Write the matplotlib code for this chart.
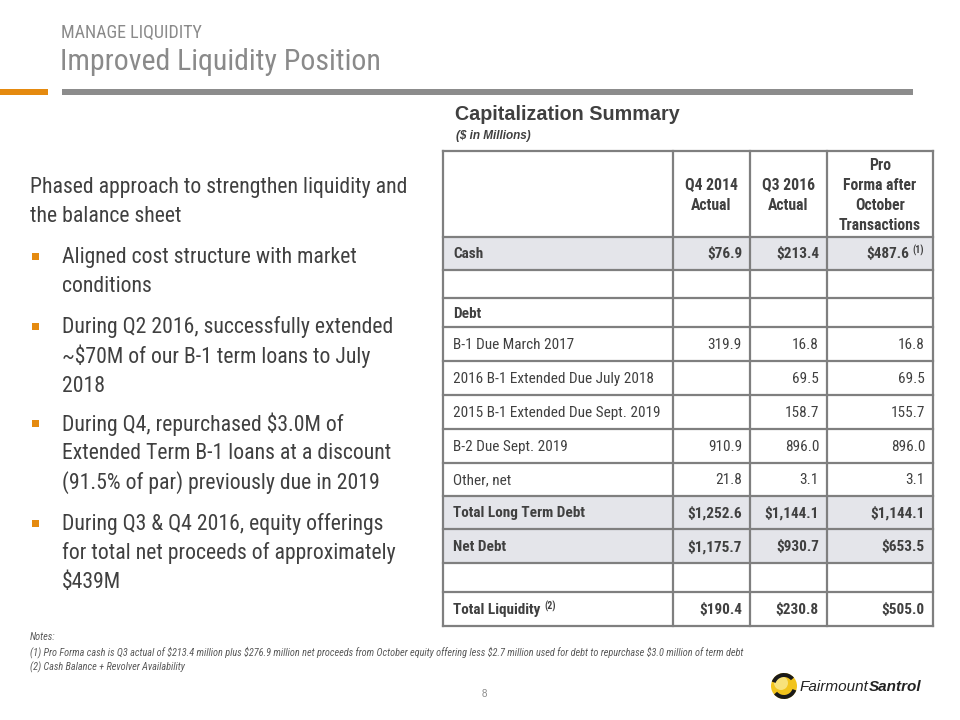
import matplotlib
matplotlib.use("Agg")
import matplotlib.pyplot as plt
from matplotlib.patches import Rectangle, Circle, Wedge

# ---------------- data ----------------
section_label = "MANAGE LIQUIDITY"
title = "Improved Liquidity Position"
table_title = "Capitalization Summary"
table_subtitle = "($ in Millions)"

column_headers = ["Q4 2014\nActual", "Q3 2016\nActual", "Pro\nForma after\nOctober\nTransactions"]
row_labels = ["Cash", "", "Debt", "B-1 Due March 2017", "2016 B-1 Extended Due July 2018",
              "2015 B-1 Extended Due Sept. 2019", "B-2 Due Sept. 2019", "Other, net",
              "Total Long Term Debt", "Net Debt", "", "Total Liquidity"]
row_label_notes = ["", "", "", "", "", "", "", "", "", "", "", "(2)"]
q4_2014_actual = ["$76.9", "", "", "319.9", "", "", "910.9", "21.8", "$1,252.6", "$1,175.7", "", "$190.4"]
q3_2016_actual = ["$213.4", "", "", "16.8", "69.5", "158.7", "896.0", "3.1", "$1,144.1", "$930.7", "", "$230.8"]
pro_forma = ["$487.6", "", "", "16.8", "69.5", "155.7", "896.0", "3.1", "$1,144.1", "$653.5", "", "$505.0"]
pro_forma_notes = ["(1)", "", "", "", "", "", "", "", "", "", "", ""]
bold_rows = ["Cash", "Debt", "Total Long Term Debt", "Net Debt", "Total Liquidity"]
shaded_rows = ["Cash", "Total Long Term Debt", "Net Debt"]

intro = "Phased approach to strengthen liquidity and\nthe balance sheet"
bullets = [
    "Aligned cost structure with market\nconditions",
    "During Q2 2016, successfully extended\n~$70M of our B-1 term loans to July\n2018",
    "During Q4, repurchased $3.0M of\nExtended Term B-1 loans at a discount\n(91.5% of par) previously due in 2019",
    "During Q3 & Q4 2016, equity offerings\nfor total net proceeds of approximately\n$439M",
]
notes = [
    "Notes:",
    "(1) Pro Forma cash is Q3 actual of $213.4 million plus $276.9 million net proceeds from October equity offering less $2.7 million used for debt to repurchase $3.0 million of term debt",
    "(2) Cash Balance + Revolver Availability",
]
page_number = "8"

# ---------------- style ----------------
COND = ["Roboto Condensed", "DejaVu Sans"]
SANS = ["Liberation Sans", "DejaVu Sans"]
GREY_TITLE = "#8a8a8a"
DARK = "#404040"
ORANGE = "#e58a0f"
BORDER = "#7f7f7f"
SHADE = "#e4e5ea"

fig = plt.figure(figsize=(9.6, 7.2), dpi=100)
ax = fig.add_axes([0, 0, 1, 1])
ax.set_xlim(0, 960)
ax.set_ylim(720, 0)
ax.axis("off")


def txt(x, y, s, **kw):
    kw.setdefault("parse_math", False)
    return ax.text(x, y, s, **kw)


# header
txt(61, 33, section_label, family=COND, fontsize=13, color=GREY_TITLE, va="center", ha="left")
txt(60, 62, title, family=COND, fontsize=21.5, color=GREY_TITLE, va="center", ha="left")
ax.add_patch(Rectangle((0, 89), 48, 6, color=ORANGE, lw=0))
ax.add_patch(Rectangle((62, 89), 851, 6, color="#8c8c8c", lw=0))

# table titles
txt(455, 114, table_title, family=SANS, fontsize=14.2, fontweight="bold", color=DARK, va="center")
txt(456, 136, table_subtitle, family=SANS, fontsize=8.5, fontweight="bold", style="italic", color=DARK, va="center")

# table geometry
col_x = [443, 673, 750, 827, 933]
row_y = [151, 237, 270, 298, 327, 361, 395, 429, 463, 496, 529, 563, 592, 626]

for i, lab in enumerate(row_labels):
    if lab in shaded_rows:
        ax.add_patch(Rectangle((col_x[0], row_y[i + 1]), col_x[-1] - col_x[0], row_y[i + 2] - row_y[i + 1],
                               facecolor=SHADE, edgecolor="none"))
for y in row_y:
    ax.plot([col_x[0], col_x[-1]], [y, y], color=BORDER, lw=1.6, solid_capstyle="projecting")
for x in col_x:
    ax.plot([x, x], [row_y[0], row_y[-1]], color=BORDER, lw=1.6, solid_capstyle="projecting")

FS = 11
for j, h in enumerate(column_headers):
    cx = (col_x[j + 1] + col_x[j + 2]) / 2
    lines = h.split("\n")
    n = len(lines)
    yc = (row_y[0] + row_y[1]) / 2 + 1
    for k, line in enumerate(lines):
        txt(cx, yc + (k - (n - 1) / 2) * 20, line, family=COND, fontsize=FS + 0.3, fontweight="bold",
            color=DARK, ha="center", va="center")

cols = [q4_2014_actual, q3_2016_actual, pro_forma]
fig.canvas.draw()
for i, lab in enumerate(row_labels):
    yc = (row_y[i + 1] + row_y[i + 2]) / 2 + 1
    w = "bold" if lab in bold_rows else "normal"
    if lab:
        t = txt(col_x[0] + 10, yc, lab, family=COND, fontsize=FS, fontweight=w, color=DARK,
                ha="left", va="center")
        if row_label_notes[i]:
            fig.canvas.draw()
            bb = t.get_window_extent()
            x_end = bb.x1 / fig.dpi * 100
            txt(x_end + 4, yc - 4, row_label_notes[i], family=COND, fontsize=7, fontweight="bold",
                color=DARK, ha="left", va="center")
    for j, col in enumerate(cols):
        val = col[i]
        if not val:
            continue
        xr = col_x[j + 2] - 8
        if j == 2 and pro_forma_notes[i]:
            txt(xr - 1, yc - 4, pro_forma_notes[i], family=COND, fontsize=7, fontweight="bold",
                color=DARK, ha="right", va="center")
            xr -= 16
        txt(xr, yc, val, family=COND, fontsize=FS, fontweight=w, color=DARK, ha="right", va="center")

# left text
PITCH = 29.5
FS_L = 15.7
for k, line in enumerate(intro.split("\n")):
    txt(30, 187 + k * PITCH, line, family=COND, fontsize=FS_L, color=DARK, ha="left", va="center")
bullet_top = [257, 327, 424, 524]
for b, y0 in zip(bullets, bullet_top):
    for k, line in enumerate(b.split("\n")):
        txt(62, y0 + k * PITCH, line, family=COND, fontsize=FS_L, color=DARK, ha="left", va="center")
    ax.add_patch(Rectangle((32, y0 - 4), 7, 7, color=ORANGE, lw=0))

# notes
for k, n in enumerate(notes):
    txt(30, 637 + k * 15, n, family=COND, fontsize=7.35, style="italic", color="#595959",
        ha="left", va="center")

txt(484, 694, page_number, family=SANS, fontsize=7, color="#8a8a8a", ha="center", va="center")

# logo
cx, cy = 784, 686
ax.add_patch(Circle((cx, cy), 13, facecolor="#f2c41c", edgecolor="none"))
ax.add_patch(Circle((cx - 3, cy - 3), 7, facecolor="#f8e27a", edgecolor="none"))
ax.add_patch(Wedge((cx, cy), 13, 200, 320, width=4, facecolor="#1a1a1a", edgecolor="none"))
ax.add_patch(Wedge((cx, cy), 13, 20, 140, width=4, facecolor="#1a1a1a", edgecolor="none"))
t1 = txt(800, 687, "Fairmount", family=SANS, fontsize=11, style="italic", color="#222222",
         ha="left", va="center")
fig.canvas.draw()
bb = t1.get_window_extent()
txt(bb.x1 / fig.dpi * 100, 687, "Santrol", family=SANS, fontsize=11, style="italic", fontweight="bold",
    color="#222222", ha="left", va="center")

fig.savefig("out.png", dpi=100)
